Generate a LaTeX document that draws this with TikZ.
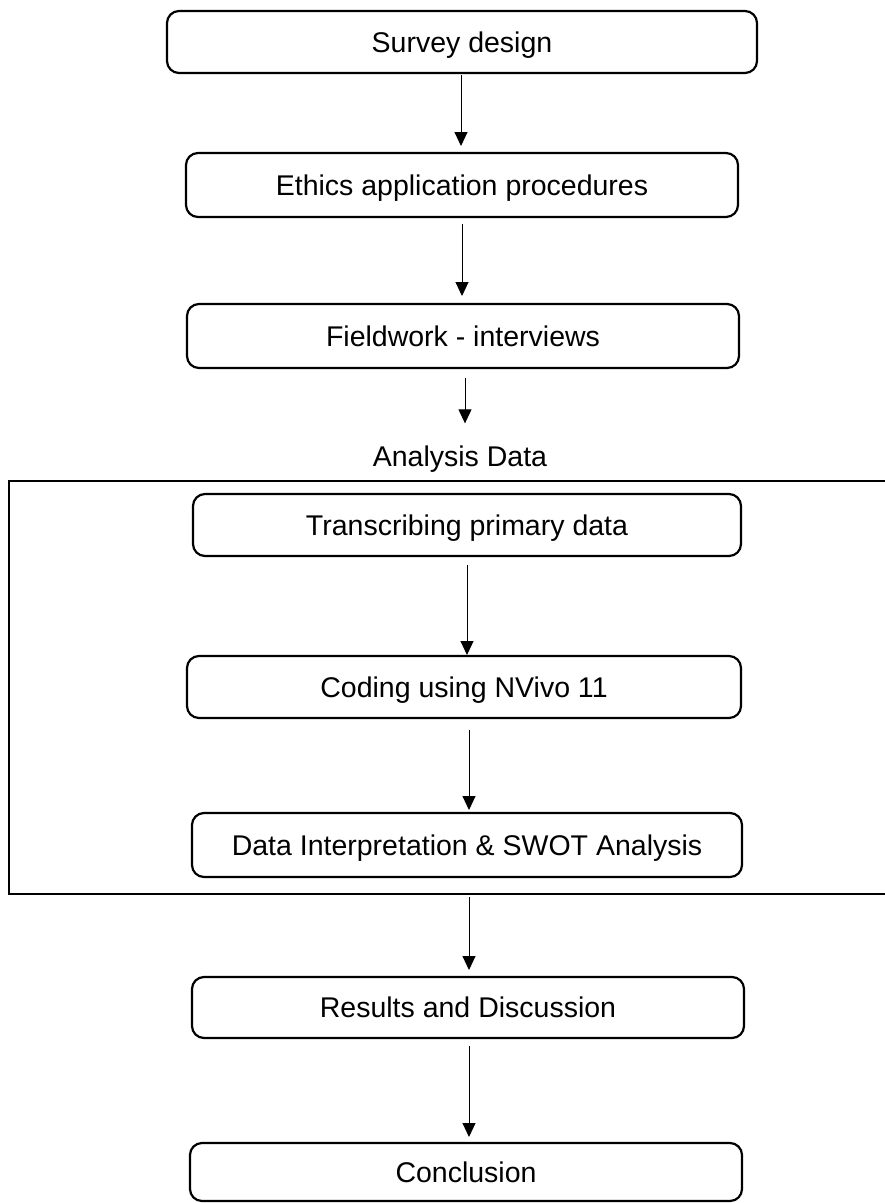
\documentclass[tikz,border=0pt]{standalone}
\usepackage{fontspec}
\setmainfont{Liberation Sans}
\usetikzlibrary{arrows.meta,calc}
\begin{document}
\begin{tikzpicture}[x=1pt,y=-1pt,
  stepbox/.style={draw=black,line width=2.2pt,rounded corners=12pt,inner sep=0pt,outer sep=0pt,
    text height=20.4pt,text depth=0pt,
    font=\fontsize{28.5}{34}\selectfont},
  arr/.style={draw=black,line width=1pt,-{Triangle[length=14pt,width=13pt]}},
  frame/.style={draw=black,line width=2.6pt}]
\useasboundingbox (0,0) rectangle (885,1203);
\node[stepbox,minimum width=590pt,minimum height=62pt] (b1) at (462,42) {Survey design};
\node[stepbox,minimum width=552pt,minimum height=64pt] (b2) at (462,185) {Ethics application procedures};
\node[stepbox,minimum width=552pt,minimum height=64pt] (b3) at (463,336) {Fieldwork - interviews};
\node[anchor=base,inner sep=0pt,outer sep=0pt,font=\fontsize{28.5}{34}\selectfont] (ad) at (460,466) {Analysis Data};
\node[stepbox,minimum width=548pt,minimum height=62pt] (b4) at (467,525) {Transcribing primary data};
\node[stepbox,minimum width=554pt,minimum height=62pt] (b5) at (464,687) {Coding using NVivo 11};
\node[stepbox,minimum width=550pt,minimum height=64pt] (b6) at (467,845) {Data Interpretation \& SWOT Analysis};
\node[stepbox,minimum width=552pt,minimum height=61pt] (b7) at (468,1007.5) {Results and Discussion};
\node[stepbox,minimum width=552pt,minimum height=58pt] (b8) at (466,1172) {Conclusion};
% frame around analysis steps
\draw[frame] (885,481) -| (9,894) -- (885,894);
% connectors
\draw[arr,shorten <=2pt,shorten >=7pt] ([xshift=-1pt]b1.south) -- ([xshift=-1pt]b1.south |- b2.north);
\draw[arr,shorten <=7pt,shorten >=8pt] (b2.south) -- (b2.south |- b3.north);
\draw[arr,shorten <=10pt,shorten >=22pt] ([xshift=2pt]b3.south) -- ([xshift=2pt]b3.south |- ad.north);
\draw[arr,shorten <=9pt,shorten >=1pt] (b4.south) -- (b4.south |- b5.north);
\draw[arr,shorten <=12pt,shorten >=3pt] ([xshift=5pt]b5.south) -- ([xshift=5pt]b5.south |- b6.north);
\draw[arr,shorten <=20pt,shorten >=7pt] ([xshift=2pt]b6.south) -- ([xshift=2pt]b6.south |- b7.north);
\draw[arr,shorten <=8pt,shorten >=6pt] ([xshift=1pt]b7.south) -- ([xshift=1pt]b7.south |- b8.north);
\end{tikzpicture}
\end{document}
